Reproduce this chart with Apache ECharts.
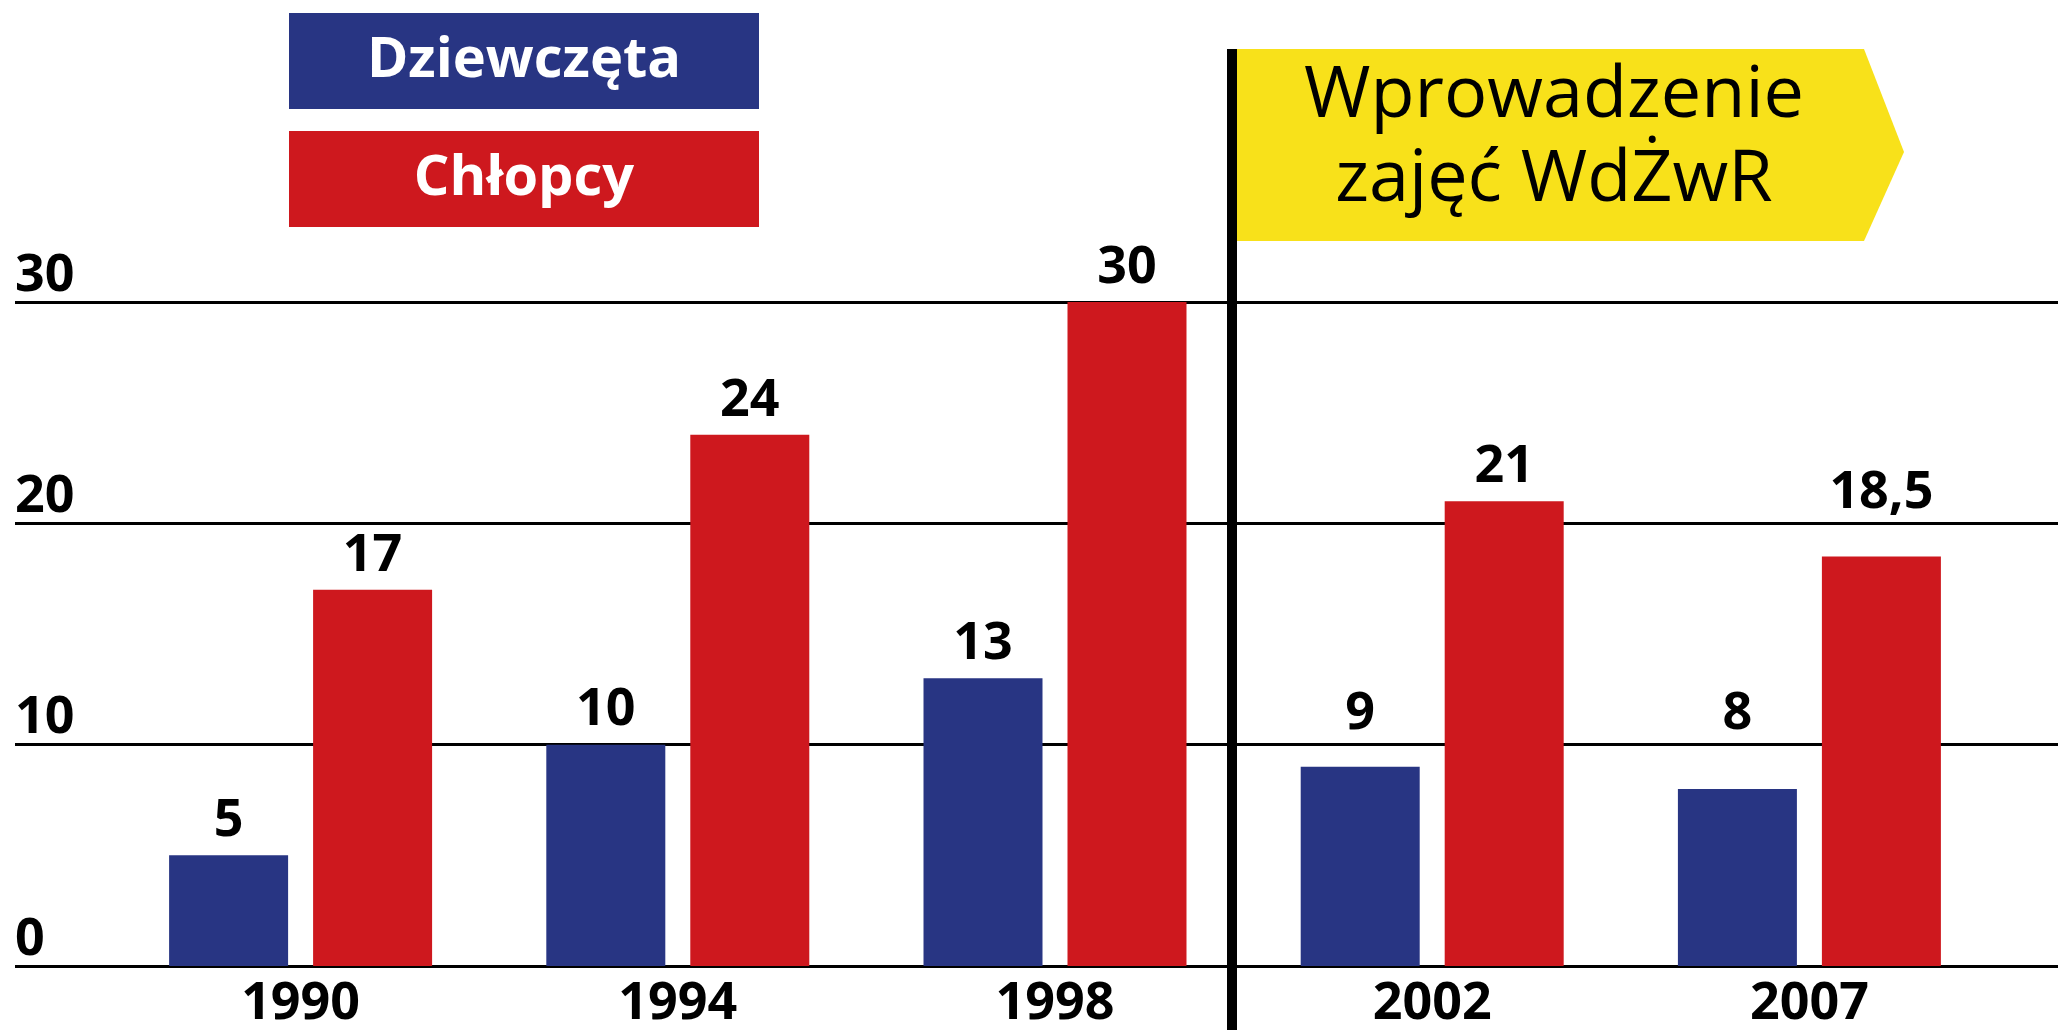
<!DOCTYPE html>
<html>
<head>
<meta charset="utf-8">
<script src="https://cdn.jsdelivr.net/npm/echarts@6/dist/echarts.min.js"></script>
<style>
html,body{margin:0;padding:0;background:#fff;}
#c{width:2058px;height:1030px;}
</style>
</head>
<body>
<div id="c"></div>
<script>
// ---- data ----
var years = ['1990', '1994', '1998', '2002', '2007'];
var girls = [5, 10, 13, 9, 8];
var boys = [17, 24, 30, 21, 18.5];
var seriesNames = ['Dziewczęta', 'Chłopcy'];
var yTicks = [0, 10, 20, 30];
var noteLines = ['Wprowadzenie', 'zajęć WdŻwR'];

var BLUE = '#283583', RED = '#CE181E', YELLOW = '#F8E11A';
var FONT = '"Open Sans", "Noto Sans", sans-serif';

var chart = echarts.init(document.getElementById('c'), null, {renderer: 'canvas'});

function fmt(v) { return String(v).replace('.', ','); }

function baseOption(gData, bData) {
  return {
    animation: false,
    backgroundColor: '#fff',
    grid: [
      {left: 15, right: 0, top: 302, bottom: 64, containLabel: false, outerBoundsMode: 'none'},
      {left: 112, right: 60, top: 302, bottom: 64, containLabel: false, outerBoundsMode: 'none'}
    ],
    legend: {
      orient: 'vertical',
      left: 284,
      top: 13,
      padding: 0,
      itemGap: 22,
      itemWidth: 0,
      itemHeight: 1,
      icon: 'none',
      selectedMode: false,
      data: seriesNames,
      formatter: function (name) {
        return (name === seriesNames[0] ? '{g|' : '{b|') + name + '}';
      },
      textStyle: {
        rich: {
          g: {width: 470, height: 96, lineHeight: 96, align: 'center', backgroundColor: BLUE,
              color: '#fff', fontSize: 56, fontWeight: 'bold', fontFamily: FONT},
          b: {width: 470, height: 96, lineHeight: 96, align: 'center', backgroundColor: RED,
              color: '#fff', fontSize: 56, fontWeight: 'bold', fontFamily: FONT}
        }
      }
    },
    xAxis: [
      {gridIndex: 0, type: 'value', min: 0, max: 1, show: false},
      {gridIndex: 1, type: 'category', data: years,
       axisLine: {show: false}, axisTick: {show: false},
       axisLabel: {margin: 12, fontSize: 52, fontWeight: 'bold', color: '#000', fontFamily: FONT}}
    ],
    yAxis: [
      {gridIndex: 0, type: 'value', min: 0, max: 30, interval: 10,
       axisLine: {show: false}, axisTick: {show: false},
       splitLine: {show: true, lineStyle: {color: '#000', width: 3}},
       axisLabel: {inside: true, margin: 0, verticalAlign: 'bottom', padding: [0, 0, 0, 0],
                   fontSize: 52, fontWeight: 'bold', color: '#000', fontFamily: FONT,
                   customValues: yTicks}},
      {gridIndex: 1, type: 'value', min: 0, max: 30, interval: 10, show: false}
    ],
    series: [
      {name: seriesNames[0], type: 'bar', xAxisIndex: 1, yAxisIndex: 1,
       barWidth: 119, barGap: '21%', itemStyle: {color: BLUE}, data: gData,
       label: {show: true, position: 'top', distance: 8, fontSize: 52, fontWeight: 'bold',
               color: '#000', fontFamily: FONT, formatter: function (p) { return fmt(p.value); }}},
      {name: seriesNames[1], type: 'bar', xAxisIndex: 1, yAxisIndex: 1,
       barWidth: 119, barGap: '21%', itemStyle: {color: RED}, data: bData,
       label: {show: true, position: 'top', distance: 8, fontSize: 52, fontWeight: 'bold',
               color: '#000', fontFamily: FONT, formatter: function (p) { return fmt(p.value); }}}
    ],
    graphic: [
      {type: 'polygon', z: 100,
       shape: {points: [[1237, 49], [1864, 49], [1904, 152], [1864, 241], [1237, 241]]},
       style: {fill: YELLOW}},
      {type: 'rect', z: 101, shape: {x: 1227, y: 49, width: 10, height: 981}, style: {fill: '#000'}},
      {type: 'text', z: 102, x: 1554, y: 138,
       style: {text: noteLines.join('\n'), fill: '#000', font: '400 72px ' + FONT,
               lineHeight: 84, align: 'center', verticalAlign: 'middle'}}
    ]
  };
}

chart.setOption(baseOption(girls, boys));

// raise value labels above a gridline when they would collide with it
var GLYPH_OFF = 16, BASE_D = 8, ABOVE_LINE = 20;
function withDistances(vals) {
  var gridPx = yTicks.map(function (t) { return chart.convertToPixel({yAxisIndex: 1}, t); });
  return vals.map(function (v) {
    var top = chart.convertToPixel({yAxisIndex: 1}, v);
    var d = BASE_D;
    var labelBottom = top - d - GLYPH_OFF, labelTop = labelBottom - 38;
    gridPx.forEach(function (g) {
      if (g < top - 2 && g > labelTop - 4) {
        d = Math.max(d, top - (g - ABOVE_LINE) - GLYPH_OFF);
      }
    });
    return {value: v, label: {distance: d}};
  });
}

chart.setOption({series: [{data: withDistances(girls)}, {data: withDistances(boys)}]});
</script>
</body>
</html>
